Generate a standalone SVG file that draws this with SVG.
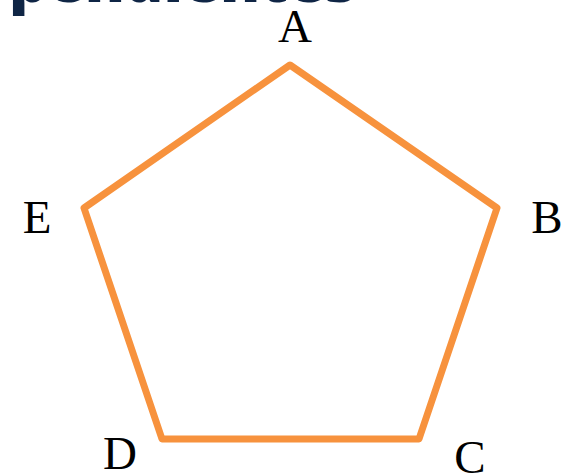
<svg xmlns="http://www.w3.org/2000/svg" width="566" height="476" viewBox="0 0 566 476">
<style>
.lbl{font-family:"Liberation Serif","Times New Roman",serif;font-size:47px;fill:#000}
.edge{fill:none;stroke:#F7923D;stroke-width:7;stroke-linejoin:round}
.title{font-family:"Open Sans","Liberation Sans",sans-serif;font-weight:800;font-size:60px;fill:#0f2545}
</style>
<rect width="566" height="476" fill="#fff"/>
<text class="title" x="9" y="1.5">pendientes</text>
<g id="connectors">
<polygon class="edge" points="290,65 497,208 419,439 162,439 84,208"/>
</g>
<g id="A"><text class="lbl" x="295" y="42" text-anchor="middle">A</text></g>
<g id="B"><text class="lbl" x="547" y="233" text-anchor="middle">B</text></g>
<g id="C"><text class="lbl" x="470" y="473" text-anchor="middle">C</text></g>
<g id="D"><text class="lbl" x="120" y="469" text-anchor="middle">D</text></g>
<g id="E"><text class="lbl" x="37" y="233" text-anchor="middle">E</text></g>
</svg>
